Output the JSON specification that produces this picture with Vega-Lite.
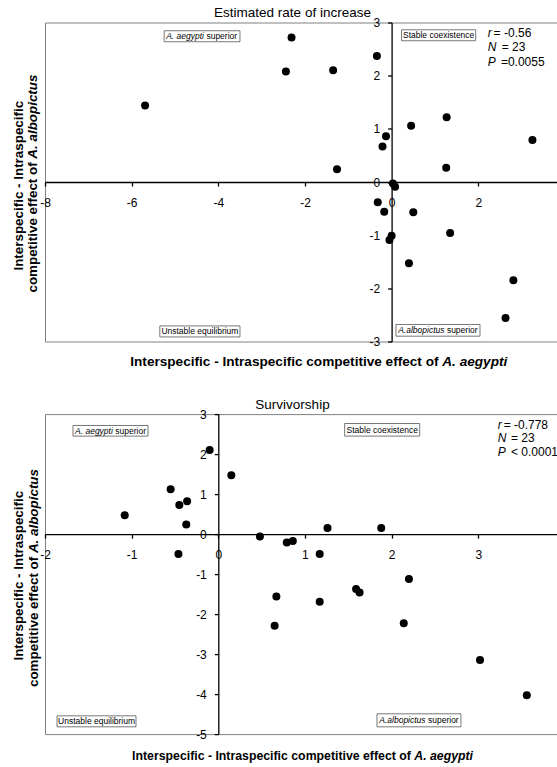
{
  "$schema": "https://vega.github.io/schema/vega-lite/v6.json",
  "padding": {"left": 11, "top": 5.5, "right": 0, "bottom": 0},
  "bounds": "flush",
  "spacing": 72.6,
  "datasets": {
    "ratePoints": [
      {"x": -5.69, "y": 1.44}, {"x": -2.31, "y": 2.72}, {"x": -2.44, "y": 2.08}, {"x": -1.35, "y": 2.10},
      {"x": -0.34, "y": 2.37}, {"x": -1.26, "y": 0.24}, {"x": -0.13, "y": 0.86}, {"x": -0.21, "y": 0.67},
      {"x": 0.45, "y": 1.06}, {"x": 1.27, "y": 1.22}, {"x": 3.25, "y": 0.79}, {"x": 1.26, "y": 0.27},
      {"x": 0.03, "y": -0.03}, {"x": 0.08, "y": -0.09}, {"x": -0.32, "y": -0.38}, {"x": -0.17, "y": -0.56},
      {"x": 0.50, "y": -0.57}, {"x": 0.0, "y": -1.01}, {"x": -0.05, "y": -1.09}, {"x": 1.35, "y": -0.96},
      {"x": 0.40, "y": -1.53}, {"x": 2.81, "y": -1.85}, {"x": 2.63, "y": -2.56}
    ],
    "rateRects": [
      {"x": -5.25, "x2": -3.50, "y": 2.845, "y2": 2.638},
      {"x": 0.23, "x2": 1.94, "y": 2.863, "y2": 2.657},
      {"x": -5.35, "x2": -3.50, "y": -2.707, "y2": -2.914},
      {"x": 0.10, "x2": 2.04, "y": -2.68, "y2": -2.90}
    ],
    "rateAnno": [
      {"role": "plain", "x": 1.085, "y": 2.76, "text": "Stable coexistence"},
      {"role": "plain", "x": -4.425, "y": -2.81, "text": "Unstable equilibrium"},
      {"role": "boxItalic", "x": -4.33, "y": 2.74, "text": "A. aegypti"},
      {"role": "boxNormal", "x": -4.33, "y": 2.74, "text": "superior"},
      {"role": "boxItalic", "x": 1.22, "y": -2.79, "text": "A.albopictus"},
      {"role": "boxNormal", "x": 1.22, "y": -2.79, "text": "superior"},
      {"role": "statItalic", "x": 2.22, "y": 2.80, "text": "r"},
      {"role": "statNormal", "x": 2.354, "y": 2.80, "text": "= -0.56"},
      {"role": "statItalic", "x": 2.22, "y": 2.53, "text": "N"},
      {"role": "statNormal", "x": 2.539, "y": 2.53, "text": "= 23"},
      {"role": "statItalic", "x": 2.22, "y": 2.26, "text": "P"},
      {"role": "statNormal", "x": 2.522, "y": 2.26, "text": "=0.0055"},
      {"role": "yt1", "x": -8.61, "y": -0.07, "text": "Interspecific - Intraspecific"},
      {"role": "yt2a", "x": -8.27, "y": 0.37, "text": "competitive effect of"},
      {"role": "yt2b", "x": -8.27, "y": 0.37, "text": "A. albopictus"},
      {"role": "xta", "x": 1.082, "y": -3.386, "text": "Interspecific - Intraspecific competitive effect of"},
      {"role": "xtb", "x": 1.082, "y": -3.386, "text": "A. aegypti"}
    ],
    "survPoints": [
      {"x": -0.10, "y": 2.10}, {"x": 0.15, "y": 1.47}, {"x": -0.55, "y": 1.12}, {"x": -0.36, "y": 0.82},
      {"x": -0.45, "y": 0.73}, {"x": -1.08, "y": 0.47}, {"x": -0.37, "y": 0.24}, {"x": 0.48, "y": -0.06},
      {"x": -0.46, "y": -0.50}, {"x": 1.26, "y": 0.15}, {"x": 1.88, "y": 0.15}, {"x": 0.79, "y": -0.21},
      {"x": 0.86, "y": -0.17}, {"x": 1.17, "y": -0.50}, {"x": 2.20, "y": -1.12}, {"x": 1.59, "y": -1.37},
      {"x": 1.63, "y": -1.46}, {"x": 1.17, "y": -1.69}, {"x": 2.14, "y": -2.23}, {"x": 3.02, "y": -3.15},
      {"x": 3.56, "y": -4.03}, {"x": 0.67, "y": -1.56}, {"x": 0.65, "y": -2.29}
    ],
    "survRects": [
      {"x": -1.677, "x2": -0.811, "y": 2.715, "y2": 2.45},
      {"x": 1.458, "x2": 2.324, "y": 2.765, "y2": 2.45},
      {"x": -1.861, "x2": -0.950, "y": -4.543, "y2": -4.818},
      {"x": 1.831, "x2": 2.800, "y": -4.493, "y2": -4.818}
    ],
    "survAnno": [
      {"role": "plain", "x": 1.891, "y": 2.61, "text": "Stable coexistence"},
      {"role": "plain", "x": -1.405, "y": -4.68, "text": "Unstable equilibrium"},
      {"role": "boxItalic", "x": -1.217, "y": 2.58, "text": "A. aegypti"},
      {"role": "boxNormal", "x": -1.217, "y": 2.58, "text": "superior"},
      {"role": "boxItalic", "x": 2.392, "y": -4.655, "text": "A.albopictus"},
      {"role": "boxNormal", "x": 2.392, "y": -4.655, "text": "superior"},
      {"role": "statItalic", "x": 3.224, "y": 2.74, "text": "r"},
      {"role": "statNormal", "x": 3.293, "y": 2.74, "text": "=  -0.778"},
      {"role": "statItalic", "x": 3.224, "y": 2.40, "text": "N"},
      {"role": "statNormal", "x": 3.377, "y": 2.40, "text": "= 23"},
      {"role": "statItalic", "x": 3.224, "y": 2.05, "text": "P"},
      {"role": "statNormal", "x": 3.377, "y": 2.05, "text": "< 0.0001"},
      {"role": "yt1", "x": -2.305, "y": -1.04, "text": "Interspecific - Intraspecific"},
      {"role": "yt2a", "x": -2.132, "y": -0.5675, "text": "competitive effect of"},
      {"role": "yt2b", "x": -2.132, "y": -0.5675, "text": "A. albopictus"},
      {"role": "xta", "x": 2.222, "y": -5.535, "text": "Interspecific - Intraspecific competitive effect of"},
      {"role": "xtb", "x": 2.222, "y": -5.535, "text": "A. aegypti"}
    ]
  },
  "vconcat": [
    {
      "width": 513,
      "height": 319,
      "title": {"text": "Estimated rate of increase", "fontSize": 13.5, "fontWeight": "normal", "font": "Liberation Sans", "color": "black", "dx": -9, "dy": 3, "offset": 0},
      "layer": [
        {
          "data": {"name": "rateRects"},
          "mark": {"type": "rect", "fill": "white", "stroke": "#555", "strokeWidth": 0.8},
          "encoding": {
            "x": {"field": "x", "type": "quantitative", "scale": {"domain": [-8, 3.84], "nice": false, "zero": false},
                  "axis": {"orient": "bottom", "offset": -159.5, "values": [-8, -6, -4, -2, 0, 2], "tickCount": 20, "title": null, "labelOverlap": false, "labelExpr": "'' + datum.value"}},
            "x2": {"field": "x2"},
            "y": {"field": "y", "type": "quantitative", "scale": {"domain": [-3, 3], "nice": false, "zero": false},
                  "axis": {"orient": "left", "offset": -346.6, "values": [-3, -2, -1, 0, 1, 2, 3], "tickCount": 20, "title": null, "labelOverlap": false, "labelExpr": "'' + datum.value"}},
            "y2": {"field": "y2"}
          }
        },
        {
          "data": {"name": "ratePoints"},
          "mark": {"type": "circle", "size": 64, "color": "black", "opacity": 1},
          "encoding": {"x": {"field": "x", "type": "quantitative"}, "y": {"field": "y", "type": "quantitative"}}
        },
        {
          "data": {"name": "rateAnno"}, "transform": [{"filter": "datum.role === 'plain'"}],
          "mark": {"type": "text", "font": "Liberation Sans", "fontSize": 8.5, "align": "center", "baseline": "middle", "color": "black"},
          "encoding": {"x": {"field": "x", "type": "quantitative"}, "y": {"field": "y", "type": "quantitative"}, "text": {"field": "text"}}
        },
        {
          "data": {"name": "rateAnno"}, "transform": [{"filter": "datum.role === 'boxItalic'"}],
          "mark": {"type": "text", "font": "Liberation Sans", "fontSize": 8.5, "fontStyle": "italic", "align": "right", "baseline": "middle", "color": "black"},
          "encoding": {"x": {"field": "x", "type": "quantitative"}, "y": {"field": "y", "type": "quantitative"}, "text": {"field": "text"}}
        },
        {
          "data": {"name": "rateAnno"}, "transform": [{"filter": "datum.role === 'boxNormal'"}],
          "mark": {"type": "text", "font": "Liberation Sans", "fontSize": 8.5, "align": "left", "dx": 2.4, "baseline": "middle", "color": "black"},
          "encoding": {"x": {"field": "x", "type": "quantitative"}, "y": {"field": "y", "type": "quantitative"}, "text": {"field": "text"}}
        },
        {
          "data": {"name": "rateAnno"}, "transform": [{"filter": "datum.role === 'statItalic'"}],
          "mark": {"type": "text", "font": "Liberation Sans", "fontSize": 12, "fontStyle": "italic", "align": "left", "baseline": "middle", "color": "black"},
          "encoding": {"x": {"field": "x", "type": "quantitative"}, "y": {"field": "y", "type": "quantitative"}, "text": {"field": "text"}}
        },
        {
          "data": {"name": "rateAnno"}, "transform": [{"filter": "datum.role === 'statNormal'"}],
          "mark": {"type": "text", "font": "Liberation Sans", "fontSize": 12, "align": "left", "baseline": "middle", "color": "black"},
          "encoding": {"x": {"field": "x", "type": "quantitative"}, "y": {"field": "y", "type": "quantitative"}, "text": {"field": "text"}}
        },
        {
          "data": {"name": "rateAnno"}, "transform": [{"filter": "datum.role === 'yt1'"}],
          "mark": {"type": "text", "font": "Liberation Sans", "fontSize": 13.4, "fontWeight": "bold", "angle": 270, "align": "center", "baseline": "middle", "color": "black"},
          "encoding": {"x": {"field": "x", "type": "quantitative"}, "y": {"field": "y", "type": "quantitative"}, "text": {"field": "text"}}
        },
        {
          "data": {"name": "rateAnno"}, "transform": [{"filter": "datum.role === 'yt2a'"}],
          "mark": {"type": "text", "font": "Liberation Sans", "fontSize": 13.4, "fontWeight": "bold", "angle": 270, "align": "right", "baseline": "middle", "color": "black"},
          "encoding": {"x": {"field": "x", "type": "quantitative"}, "y": {"field": "y", "type": "quantitative"}, "text": {"field": "text"}}
        },
        {
          "data": {"name": "rateAnno"}, "transform": [{"filter": "datum.role === 'yt2b'"}],
          "mark": {"type": "text", "font": "Liberation Sans", "fontSize": 13.4, "fontWeight": "bold", "fontStyle": "italic", "angle": 270, "align": "left", "dx": 3.7, "baseline": "middle", "color": "black"},
          "encoding": {"x": {"field": "x", "type": "quantitative"}, "y": {"field": "y", "type": "quantitative"}, "text": {"field": "text"}}
        },
        {
          "data": {"name": "rateAnno"}, "transform": [{"filter": "datum.role === 'xta'"}],
          "mark": {"type": "text", "font": "Liberation Sans", "fontSize": 13.6, "fontWeight": "bold", "align": "right", "baseline": "middle", "color": "black"},
          "encoding": {"x": {"field": "x", "type": "quantitative"}, "y": {"field": "y", "type": "quantitative"}, "text": {"field": "text"}}
        },
        {
          "data": {"name": "rateAnno"}, "transform": [{"filter": "datum.role === 'xtb'"}],
          "mark": {"type": "text", "font": "Liberation Sans", "fontSize": 13.6, "fontWeight": "bold", "fontStyle": "italic", "align": "left", "dx": 3.8, "baseline": "middle", "color": "black"},
          "encoding": {"x": {"field": "x", "type": "quantitative"}, "y": {"field": "y", "type": "quantitative"}, "text": {"field": "text"}}
        }
      ]
    },
    {
      "width": 513,
      "height": 320,
      "title": {"text": "Survivorship", "fontSize": 13.5, "fontWeight": "normal", "font": "Liberation Sans", "color": "black", "dx": -9, "dy": 3, "offset": 0},
      "layer": [
        {
          "data": {"name": "survRects"},
          "mark": {"type": "rect", "fill": "white", "stroke": "#555", "strokeWidth": 0.8},
          "encoding": {
            "x": {"field": "x", "type": "quantitative", "scale": {"domain": [-2, 3.92], "nice": false, "zero": false},
                  "axis": {"orient": "bottom", "offset": -200, "values": [-2, -1, 0, 1, 2, 3], "tickCount": 20, "title": null, "labelOverlap": false, "labelExpr": "'' + datum.value"}},
            "x2": {"field": "x2"},
            "y": {"field": "y", "type": "quantitative", "scale": {"domain": [-5, 3], "nice": false, "zero": false},
                  "axis": {"orient": "left", "offset": -173.3, "values": [-5, -4, -3, -2, -1, 0, 1, 2, 3], "tickCount": 20, "title": null, "labelOverlap": false, "labelExpr": "'' + datum.value"}},
            "y2": {"field": "y2"}
          }
        },
        {
          "data": {"name": "survPoints"},
          "mark": {"type": "circle", "size": 64, "color": "black", "opacity": 1},
          "encoding": {"x": {"field": "x", "type": "quantitative"}, "y": {"field": "y", "type": "quantitative"}}
        },
        {
          "data": {"name": "survAnno"}, "transform": [{"filter": "datum.role === 'plain'"}],
          "mark": {"type": "text", "font": "Liberation Sans", "fontSize": 8.5, "align": "center", "baseline": "middle", "color": "black"},
          "encoding": {"x": {"field": "x", "type": "quantitative"}, "y": {"field": "y", "type": "quantitative"}, "text": {"field": "text"}}
        },
        {
          "data": {"name": "survAnno"}, "transform": [{"filter": "datum.role === 'boxItalic'"}],
          "mark": {"type": "text", "font": "Liberation Sans", "fontSize": 8.5, "fontStyle": "italic", "align": "right", "baseline": "middle", "color": "black"},
          "encoding": {"x": {"field": "x", "type": "quantitative"}, "y": {"field": "y", "type": "quantitative"}, "text": {"field": "text"}}
        },
        {
          "data": {"name": "survAnno"}, "transform": [{"filter": "datum.role === 'boxNormal'"}],
          "mark": {"type": "text", "font": "Liberation Sans", "fontSize": 8.5, "align": "left", "dx": 2.4, "baseline": "middle", "color": "black"},
          "encoding": {"x": {"field": "x", "type": "quantitative"}, "y": {"field": "y", "type": "quantitative"}, "text": {"field": "text"}}
        },
        {
          "data": {"name": "survAnno"}, "transform": [{"filter": "datum.role === 'statItalic'"}],
          "mark": {"type": "text", "font": "Liberation Sans", "fontSize": 12, "fontStyle": "italic", "align": "left", "baseline": "middle", "color": "black"},
          "encoding": {"x": {"field": "x", "type": "quantitative"}, "y": {"field": "y", "type": "quantitative"}, "text": {"field": "text"}}
        },
        {
          "data": {"name": "survAnno"}, "transform": [{"filter": "datum.role === 'statNormal'"}],
          "mark": {"type": "text", "font": "Liberation Sans", "fontSize": 12, "align": "left", "baseline": "middle", "color": "black"},
          "encoding": {"x": {"field": "x", "type": "quantitative"}, "y": {"field": "y", "type": "quantitative"}, "text": {"field": "text"}}
        },
        {
          "data": {"name": "survAnno"}, "transform": [{"filter": "datum.role === 'yt1'"}],
          "mark": {"type": "text", "font": "Liberation Sans", "fontSize": 13.4, "fontWeight": "bold", "angle": 270, "align": "center", "baseline": "middle", "color": "black"},
          "encoding": {"x": {"field": "x", "type": "quantitative"}, "y": {"field": "y", "type": "quantitative"}, "text": {"field": "text"}}
        },
        {
          "data": {"name": "survAnno"}, "transform": [{"filter": "datum.role === 'yt2a'"}],
          "mark": {"type": "text", "font": "Liberation Sans", "fontSize": 13.4, "fontWeight": "bold", "angle": 270, "align": "right", "baseline": "middle", "color": "black"},
          "encoding": {"x": {"field": "x", "type": "quantitative"}, "y": {"field": "y", "type": "quantitative"}, "text": {"field": "text"}}
        },
        {
          "data": {"name": "survAnno"}, "transform": [{"filter": "datum.role === 'yt2b'"}],
          "mark": {"type": "text", "font": "Liberation Sans", "fontSize": 13.4, "fontWeight": "bold", "fontStyle": "italic", "angle": 270, "align": "left", "dx": 3.7, "baseline": "middle", "color": "black"},
          "encoding": {"x": {"field": "x", "type": "quantitative"}, "y": {"field": "y", "type": "quantitative"}, "text": {"field": "text"}}
        },
        {
          "data": {"name": "survAnno"}, "transform": [{"filter": "datum.role === 'xta'"}],
          "mark": {"type": "text", "font": "Liberation Sans", "fontSize": 12.3, "fontWeight": "bold", "align": "right", "baseline": "middle", "color": "black"},
          "encoding": {"x": {"field": "x", "type": "quantitative"}, "y": {"field": "y", "type": "quantitative"}, "text": {"field": "text"}}
        },
        {
          "data": {"name": "survAnno"}, "transform": [{"filter": "datum.role === 'xtb'"}],
          "mark": {"type": "text", "font": "Liberation Sans", "fontSize": 12.3, "fontWeight": "bold", "fontStyle": "italic", "align": "left", "dx": 3.4, "baseline": "middle", "color": "black"},
          "encoding": {"x": {"field": "x", "type": "quantitative"}, "y": {"field": "y", "type": "quantitative"}, "text": {"field": "text"}}
        }
      ]
    }
  ],
  "config": {
    "font": "Liberation Sans",
    "view": {"stroke": "#808080", "strokeWidth": 1},
    "axis": {"grid": false, "domainColor": "black", "domainWidth": 1.3, "tickColor": "black", "tickSize": 4, "tickWidth": 1.3,
             "labelFontSize": 12, "labelColor": "black", "labelFont": "Liberation Sans", "labelFlush": false, "labelOverlap": false},
    "axisX": {"labelPadding": 11},
    "axisY": {"labelPadding": 8}
  }
}
